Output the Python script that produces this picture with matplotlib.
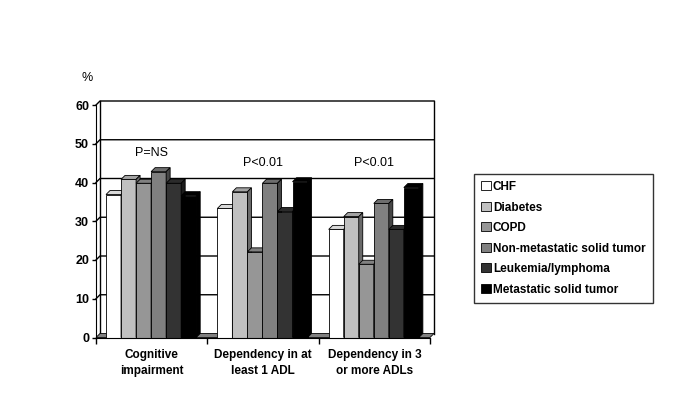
import matplotlib
matplotlib.use("Agg")
import matplotlib.pyplot as plt
from matplotlib.patches import Polygon, Patch
import numpy as np

plt.rcParams['font.family'] = ['Liberation Sans', 'DejaVu Sans']

# data
categories = ['Cognitive\nimpairment', 'Dependency in at\nleast 1 ADL', 'Dependency in 3\nor more ADLs']
series = ['CHF', 'Diabetes', 'COPD', 'Non-metastatic solid tumor', 'Leukemia/lymphoma', 'Metastatic solid tumor']
chf = [36.9, 33.3, 27.9]
diabetes = [40.8, 37.6, 31.2]
copd = [39.8, 22.1, 18.9]
non_met = [42.8, 39.8, 34.6]
leukemia = [39.8, 32.5, 27.9]
metastatic = [36.6, 40.2, 38.7]
p_labels = ['P=NS', 'P<0.01', 'P<0.01']
p_y = [47.6, 45, 45]

values = [chf, diabetes, copd, non_met, leukemia, metastatic]
colors = ['#ffffff', '#c0c0c0', '#969696', '#808080', '#333333', '#000000']


def shade(c, f):
    c = np.array(matplotlib.colors.to_rgb(c))
    return tuple(c * f)


fig = plt.figure(figsize=(6.9, 4.2), dpi=100)
ax = fig.add_axes([96 / 690, 82.5 / 420, 334 / 690, 232.5 / 420])
ax.set_xlim(-0.5, 2.5)
ax.set_ylim(0, 60)

# depth of the fake 3d look (data units)
dx = 4 / 111.3
dy = 4 / 3.875
w = 0.135
x = np.arange(len(categories))

# back wall + left wall gridlines
for v in range(0, 61, 10):
    if v > 0:
        ax.plot([-0.5, -0.5 + dx, 2.5 + dx], [v, v + dy, v + dy], color='black', lw=1, clip_on=False, zorder=1)
ax.plot([-0.5 + dx, -0.5 + dx], [dy, 60 + dy], color='black', lw=1, clip_on=False, zorder=1)
ax.plot([2.5 + dx, 2.5 + dx], [dy, 60 + dy], color='black', lw=1, clip_on=False, zorder=1)

# floor
ax.add_patch(Polygon([(-0.5, 0), (2.5, 0), (2.5 + dx, dy), (-0.5 + dx, dy)], closed=True,
                     facecolor='#808080', edgecolor='black', lw=0.6, clip_on=False, zorder=2))

z = 3
for gi in range(len(categories)):
    for si, vals in enumerate(values):
        left = x[gi] - 0.41 + si * w
        h = vals[gi]
        c = colors[si]
        ax.bar(left, h, width=w, align='edge', color=c, edgecolor='black', lw=0.6, zorder=z)
        ax.add_patch(Polygon([(left, h), (left + w, h), (left + w + dx, h + dy), (left + dx, h + dy)],
                             closed=True, facecolor=shade(c, 0.85), edgecolor='black', lw=0.6, zorder=z))
        ax.add_patch(Polygon([(left + w, 0), (left + w + dx, dy), (left + w + dx, h + dy), (left + w, h)],
                             closed=True, facecolor=shade(c, 0.55), edgecolor='black', lw=0.6, zorder=z))
        z += 1

for gi, t in enumerate(p_labels):
    ax.text(x[gi], p_y[gi], t, ha='center', va='center', fontsize=9, zorder=50)

ax.spines['top'].set_visible(False)
ax.spines['right'].set_visible(False)
ax.spines['left'].set_zorder(60)
ax.spines['bottom'].set_zorder(60)

ax.set_yticks(range(0, 61, 10))
ax.tick_params(axis='y', length=3, width=1, pad=2, labelsize=9)
for lab in ax.get_yticklabels():
    lab.set_fontweight('bold')

ax.set_xticks(x)
ax.set_xticklabels(categories, fontsize=8.5, fontweight='bold', linespacing=1.45)
ax.tick_params(axis='x', length=0, pad=8)
ax.set_xticks([-0.5, 0.5, 1.5, 2.5], minor=True)
ax.tick_params(axis='x', which='minor', length=4, width=1)

fig.text(87 / 690, 1 - 78 / 420, '%', ha='center', va='center', fontsize=9)

handles = [Patch(facecolor=c, edgecolor='black', lw=0.6) for c in colors]
leg = fig.legend(handles, series, loc='upper left', bbox_to_anchor=(474 / 690, 1 - 174 / 420),
                 frameon=True, fancybox=False, edgecolor='black', handlelength=0.8, handleheight=0.8,
                 handletextpad=0.2, labelspacing=0.72, borderpad=0.6, borderaxespad=0,
                 prop={'size': 8.5, 'weight': 'bold'})
leg.get_frame().set_linewidth(1)

fig.savefig('out.png', dpi=100, facecolor='white')
